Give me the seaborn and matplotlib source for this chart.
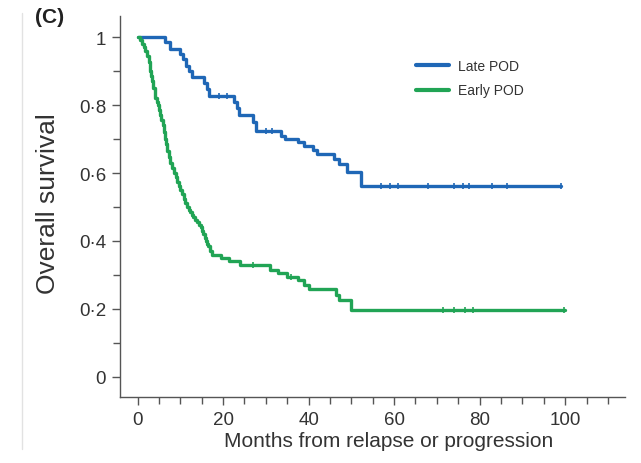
import numpy as np
import pandas as pd
import matplotlib
matplotlib.use("Agg")
import matplotlib.pyplot as plt
from matplotlib.lines import Line2D
from matplotlib.ticker import MultipleLocator, FixedLocator
import seaborn as sns

# ---- data ----
late_t = [0, 6.5, 7.5, 10.0, 10.7, 11.3, 12.0, 12.7, 15.5, 16.2, 16.8, 22.5, 23.2, 23.8,
          27.0, 27.6, 33.5, 34.5, 37.5, 39.0, 41.0, 42.0, 46.0, 47.0, 49.0, 52.2, 99.0]
late_s = [1.0, 0.985, 0.965, 0.95, 0.935, 0.915, 0.90, 0.883, 0.865, 0.848, 0.827, 0.81, 0.79, 0.77,
          0.75, 0.725, 0.71, 0.70, 0.69, 0.68, 0.667, 0.655, 0.64, 0.627, 0.604, 0.563, 0.563]
late_cens = [19, 21, 30, 31.5, 57, 59, 61, 68, 74, 76, 77.5, 83, 86.5, 99]

early_t = [0, 0.6, 1.0, 1.4, 1.8, 2.2, 2.6, 2.8, 3.0, 3.2, 3.4, 3.7, 4.0, 4.2, 4.5, 4.7, 5.0,
           5.3, 5.6, 5.9, 6.2, 6.4, 6.7, 7.0, 7.3, 7.6, 8.0, 8.5, 8.9, 9.2, 9.6, 10.0, 10.4,
           10.8, 11.2, 11.6, 12.0, 12.3, 12.7, 13.0, 13.5, 14.0, 14.4, 14.8, 15.1, 15.4, 15.7,
           15.9, 16.2, 16.4, 17.0, 17.5, 19.5, 21.5, 24.0,
           31.0, 32.8, 35.0, 37.5, 39.0, 40.0, 46.5, 47.0, 50.0, 100.0]
early_s = [1.0, 0.99, 0.98, 0.97, 0.96, 0.945, 0.927, 0.915, 0.90, 0.885, 0.87, 0.85, 0.835,
           0.82, 0.81, 0.80, 0.785, 0.77, 0.755, 0.74, 0.72, 0.70, 0.685, 0.665, 0.648, 0.63,
           0.615, 0.60, 0.588, 0.575, 0.562, 0.55, 0.538, 0.525, 0.512, 0.50, 0.492, 0.485,
           0.477, 0.47, 0.462, 0.455, 0.448, 0.44, 0.43, 0.42, 0.41, 0.40, 0.392, 0.385, 0.372,
           0.36, 0.35, 0.34, 0.328, 0.315, 0.305, 0.295, 0.285, 0.272, 0.26, 0.24, 0.225,
           0.197, 0.197]
early_cens = [27, 36, 71.5, 74, 76.5, 78.5, 99.8]

groups = ["Late POD", "Early POD"]
colors = {"Late POD": "#1f67b6", "Early POD": "#21a455"}

x_major = [0, 20, 40, 60, 80, 100]
y_major = [0, 0.2, 0.4, 0.6, 0.8, 1.0]
y_labels = ["0", "0·2", "0·4", "0·6", "0·8", "1"]

x_title = "Months from relapse or progression"
y_title = "Overall survival"
panel = "(C)"


def step_value(times, surv, q):
    idx = np.searchsorted(np.asarray(times), q, side="right") - 1
    return np.asarray(surv)[idx]


curves = pd.concat([
    pd.DataFrame({"t": late_t, "s": late_s, "g": "Late POD"}),
    pd.DataFrame({"t": early_t, "s": early_s, "g": "Early POD"}),
])
cens = pd.concat([
    pd.DataFrame({"t": late_cens, "s": step_value(late_t, late_s, late_cens), "g": "Late POD"}),
    pd.DataFrame({"t": early_cens, "s": step_value(early_t, early_s, early_cens), "g": "Early POD"}),
])

sns.set_theme(style="ticks")
plt.rcParams["font.family"] = ["Liberation Sans", "DejaVu Sans"]

fig = plt.figure(figsize=(6.41, 4.64), dpi=100)
W, H = 641, 464
ax = fig.add_axes([120 / W, 1 - 398 / H, (625 - 120) / W, (398 - 17) / H])

for g in groups:
    d = curves[curves.g == g]
    sns.lineplot(data=d, x="t", y="s", ax=ax, color=colors[g], lw=2.4,
                 drawstyle="steps-post", estimator=None, sort=False, label=g)
    c = cens[cens.g == g]
    sns.scatterplot(data=c, x="t", y="s", ax=ax, color=colors[g], marker="|",
                    s=14, linewidth=1.2, legend=False)

ax.set_xlim(-4.1, 114)
ax.set_ylim(-0.059, 1.062)

ax.xaxis.set_major_locator(FixedLocator(x_major))
ax.xaxis.set_minor_locator(FixedLocator([v for v in np.arange(0, 111, 5)]))
ax.yaxis.set_major_locator(FixedLocator(y_major))
ax.yaxis.set_minor_locator(MultipleLocator(0.1))
ax.set_yticklabels(y_labels)

for s in ["top", "right"]:
    ax.spines[s].set_visible(False)
for s in ["left", "bottom"]:
    ax.spines[s].set_color("#555555")
    ax.spines[s].set_linewidth(1.0)

ax.tick_params(axis="both", which="major", length=6, width=1.0, color="#555555",
               labelsize=13.5, labelcolor="#333333", pad=4)
ax.tick_params(axis="both", which="minor", length=5, width=1.0, color="#555555")

ax.set_xlabel(x_title, fontsize=15, color="#333333")
ax.set_ylabel(y_title, fontsize=19, color="#333333")
ax.xaxis.set_label_coords(0.531, -0.088)
ax.yaxis.set_label_coords(-0.118, 0.51)

leg = ax.legend(loc="upper left", bbox_to_anchor=(416 / W, 1 - 60 / H),
                bbox_transform=fig.transFigure, frameon=False, fontsize=10,
                handlelength=2.4, handletextpad=0.6, labelspacing=0.75,
                borderpad=0, borderaxespad=0)
for line in leg.get_lines():
    line.set_linewidth(3)
for t in leg.get_texts():
    t.set_color("#333333")

fig.text(50 / W, 1 - 8 / H, panel, fontsize=15, fontweight="bold", ha="center",
         va="top", color="#222222")
fig.add_artist(Line2D([22 / W, 22 / W], [0.03, 0.97], transform=fig.transFigure,
                      color="#e2e2e2", lw=1))

fig.savefig("out.png", dpi=100)
